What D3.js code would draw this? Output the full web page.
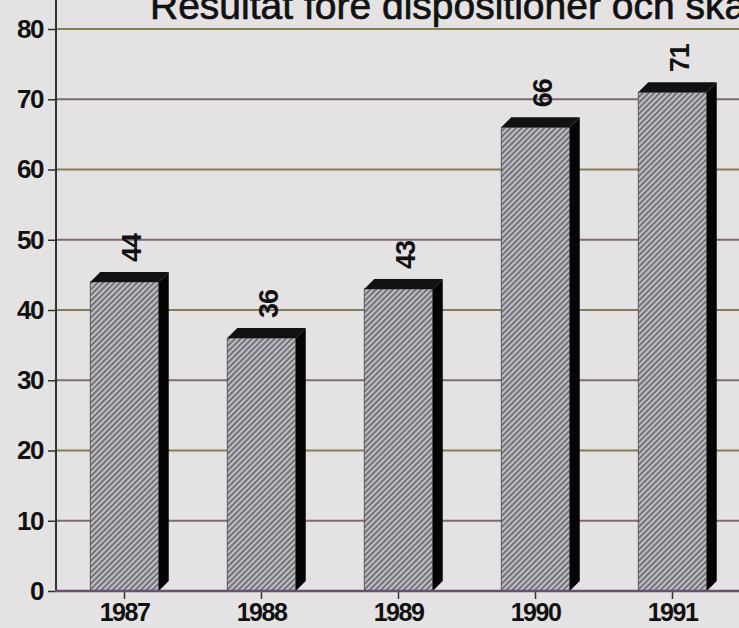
<!DOCTYPE html>
<html>
<head>
<meta charset="utf-8">
<script src="https://cdn.jsdelivr.net/npm/d3@7"></script>
<style>
  html, body { margin: 0; padding: 0; background: #e4e2e3; }
  svg { display: block; }
  text { font-family: "Liberation Sans", Arial, sans-serif; }
</style>
</head>
<body>
<svg id="chart" width="739" height="628"></svg>
<script>
// data
var years = ["1987", "1988", "1989", "1990", "1991"]
var values = [44, 36, 43, 66, 71]
var yTicks = [0, 10, 20, 30, 40, 50, 60, 70, 80]
var title = "Resultat före dispositioner och skatter"

var W = 739, H = 628
var depth = 10

var svg = d3.select("#chart")

// hatch used on the front of the bars
var defs = svg.append("defs")
var pat = defs.append("pattern")
    .attr("id", "hatch")
    .attr("patternUnits", "userSpaceOnUse")
    .attr("width", 4)
    .attr("height", 4)
    .attr("patternTransform", "rotate(-45)")
pat.append("rect").attr("width", 4).attr("height", 4).attr("fill", "#bfc1bf")
pat.append("rect").attr("width", 4).attr("height", 2).attr("fill", "#73707f")

var xScale = d3.scaleBand()
    .domain(years)
    .range([56, 741])
    .padding(0)

var yScale = d3.scaleLinear()
    .domain([0, 80])
    .range([591, 29])

var barW = xScale.bandwidth() * 0.5

// title, cut off at the top like the scan
svg.append("text")
    .attr("x", 150)
    .attr("y", 19)
    .style("font-size", "39px")
    .attr("fill", "#111")
    .attr("stroke", "#111")
    .attr("stroke-width", 0.7)
    .text(title)

// grid lines
svg.append("g").selectAll("line")
    .data(yTicks.filter(function (d) { return d > 0 }))
    .enter().append("line")
    .attr("x1", 56)
    .attr("x2", W)
    .attr("y1", function (d) { return yScale(d) })
    .attr("y2", function (d) { return yScale(d) })
    .attr("stroke", function (d, i) { return i % 2 == 0 ? "#7f6a78" : "#867c55" })
    .attr("stroke-width", 2)

// y axis
var yAxis = svg.append("g")
    .attr("transform", "translate(56,0)")
    .call(d3.axisLeft(yScale).tickValues(yTicks).tickSize(8).tickPadding(5))
yAxis.select(".domain").remove()
yAxis.selectAll("line").attr("stroke", "#333").attr("stroke-width", 1.5)
yAxis.selectAll("text")
    .style("font-size", "26px")
    .style("font-weight", "bold")
    .style("letter-spacing", "-1.5px")
    .attr("fill", "#111")
    .attr("font-family", null)
svg.append("line")
    .attr("x1", 56).attr("x2", 56)
    .attr("y1", 0).attr("y2", 592)
    .attr("stroke", "#333").attr("stroke-width", 2)

// bars
var bars = svg.append("g").selectAll("g")
    .data(values)
    .enter().append("g")
    .attr("transform", function (d, i) {
        return "translate(" + (xScale(years[i]) + xScale.bandwidth() / 2 - barW / 2) + ",0)"
    })

bars.append("rect")
    .attr("x", 0)
    .attr("y", function (d) { return yScale(d) })
    .attr("width", barW)
    .attr("height", function (d) { return yScale(0) - yScale(d) })
    .attr("fill", "url(#hatch)")
    .attr("stroke", "#444")
    .attr("stroke-width", 0.8)

// top face
bars.append("path")
    .attr("d", function (d) {
        var t = yScale(d)
        return "M0," + t + "L" + depth + "," + (t - depth) + "L" + (barW + depth) + "," + (t - depth) +
            "L" + barW + "," + t + "Z"
    })
    .attr("fill", "#111")

// side face
bars.append("path")
    .attr("d", function (d) {
        var t = yScale(d), b = yScale(0)
        return "M" + barW + "," + t + "L" + (barW + depth) + "," + (t - depth) + "L" + (barW + depth) + "," + (b - depth) +
            "L" + barW + "," + b + "Z"
    })
    .attr("fill", "#050505")

// value labels, rotated
bars.append("text")
    .attr("transform", function (d) {
        return "translate(" + (barW / 2 + depth / 2 + 11) + "," + (yScale(d) - depth - 10) + ") rotate(-90)"
    })
    .style("font-size", "27px")
    .style("font-weight", "bold")
    .style("letter-spacing", "-1px")
    .attr("fill", "#111")
    .text(function (d) { return d })

// x axis
var xAxis = svg.append("g")
    .attr("transform", "translate(0,591)")
    .call(d3.axisBottom(xScale).tickSize(8).tickPadding(4))
xAxis.select(".domain").remove()
xAxis.selectAll("line").attr("stroke", "#333").attr("stroke-width", 1.5)
xAxis.selectAll("text")
    .style("font-size", "25px")
    .style("font-weight", "bold")
    .style("letter-spacing", "-1.5px")
    .attr("fill", "#111")
    .attr("font-family", null)
svg.append("line")
    .attr("x1", 55).attr("x2", W)
    .attr("y1", 591).attr("y2", 591)
    .attr("stroke", "#6a4f6e").attr("stroke-width", 2.5)
</script>
</body>
</html>
